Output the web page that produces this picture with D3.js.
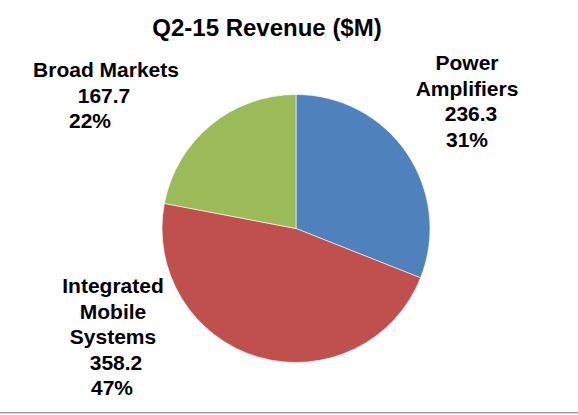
<!DOCTYPE html>
<html>
<head>
<meta charset="utf-8">
<script src="https://d3js.org/d3.v7.min.js"></script>
<style>
  body { margin: 0; background: #fff; }
  text { font-family: "Liberation Sans", Arial, sans-serif; font-weight: bold; fill: #000; }
</style>
</head>
<body>
<script>
const title = "Q2-15 Revenue ($M)";
const categories = ["Power Amplifiers", "Integrated Mobile Systems", "Broad Markets"];
const values = [236.3, 358.2, 167.7];
const colors = ["#4F81BD", "#C0504D", "#9BBB59"];
// how each category name wraps in its label
const nameLines = [["Power", "Amplifiers"], ["Integrated", "Mobile", "Systems"], ["Broad Markets"]];

const w = 578, h = 415;
const cx = 296, cy = 228.5, r = 134;

// label placement (layout only): center x, first baseline, per-line nudges
const labelPos = [
  { x: 467, y: 70, dx: [0, 0, 4, 0] },
  { x: 113, y: 293, dx: [0, 0, 0, 3, -1] },
  { x: 106, y: 77, dx: [0, -2, -16] }
];
const lineH = 25.5;

const svg = d3.select("body").append("svg")
  .attr("width", w)
  .attr("height", h);

svg.append("text")
  .attr("x", 267)
  .attr("y", 36)
  .attr("text-anchor", "middle")
  .style("font-size", "24px")
  .text(title);

const data = categories.map((c, i) => ({ name: c, value: values[i], i: i }));
const total = d3.sum(values);
const pct = d3.format(".0%");

const pie = d3.pie().sort(null).value(d => d.value);
const arc = d3.arc().innerRadius(0).outerRadius(r);

svg.append("g")
  .attr("transform", "translate(" + cx + "," + cy + ")")
  .selectAll("path")
  .data(pie(data))
  .enter()
  .append("path")
  .attr("d", arc)
  .attr("fill", d => colors[d.data.i])
  .attr("stroke", "#fff")
  .attr("stroke-width", 0.6);

data.forEach((d, i) => {
  const lines = nameLines[i].concat([d3.format(".1f")(d.value), pct(d.value / total)]);
  const p = labelPos[i];
  const t = svg.append("text")
    .attr("text-anchor", "middle")
    .style("font-size", "21px");
  lines.forEach((ln, k) => {
    t.append("tspan")
      .attr("x", p.x + (p.dx[k] || 0))
      .attr("y", p.y + k * lineH)
      .text(ln);
  });
});

// bottom rule
svg.append("line").attr("x1", 0).attr("x2", w).attr("y1", 412.5).attr("y2", 412.5)
  .attr("stroke", "#9a9a9a").attr("stroke-width", 1);
svg.append("line").attr("x1", 0).attr("x2", w).attr("y1", 413.5).attr("y2", 413.5)
  .attr("stroke", "#cfcfcf").attr("stroke-width", 1);
</script>
</body>
</html>
